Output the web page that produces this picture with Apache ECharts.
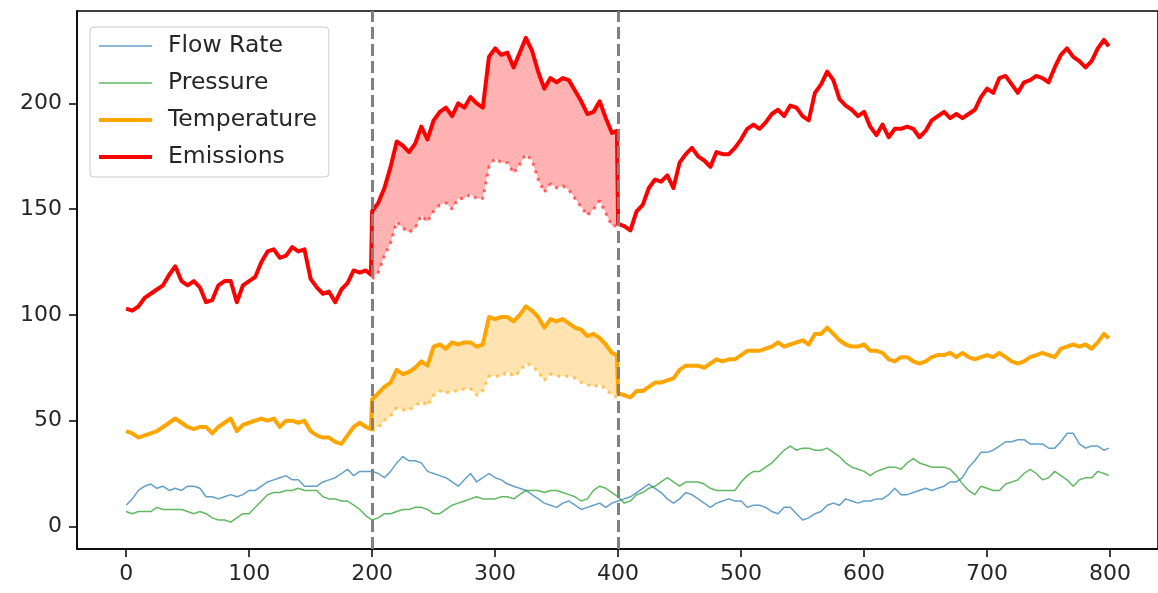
<!DOCTYPE html>
<html>
<head>
<meta charset="utf-8">
<script src="https://cdn.jsdelivr.net/npm/echarts@6/dist/echarts.min.js"></script>
<style>
html,body{margin:0;padding:0;background:#fff;}
#chart{width:1158px;height:593px;}
</style>
</head>
<body>
<div id="chart"></div>
<script>
// ---- data (sampled every 5 steps; last point of each segment is the segment's final sample) ----
const STEP = 5;
const xTicks = [0, 100, 200, 300, 400, 500, 600, 700, 800];
const yTicks = [0, 50, 100, 150, 200];
const seriesNames = ['Flow Rate', 'Pressure', 'Temperature', 'Emissions'];
const windowBounds = [200, 400];

// x = 0..795 step 5, then 799
const flowRate = [
 10,13,17,19,20,18,19,17,18,17,19,19,18,14,14,13,14,15,14,15,
 17,17,19,21,22,23,24,22,22,19,19,19,21,22,23,25,27,24,26,26,
 26,25,23,26,30,33,31,31,30,26,25,24,23,21,19,22,25,21,23,25,
 23,22,20,19,18,17,15,13,11,10,9,11,12,10,8,9,10,11,9,11,
 12,13,14,16,18,20,18,16,13,11,13,16,15,13,11,9,11,12,13,12,
 12,9,10,10,9,7,6,9,9,6,3,4,6,7,10,11,10,13,12,11,
 12,12,13,13,15,18,15,15,16,17,18,17,18,19,21,21,23,28,31,35,
 35,36,38,40,40,41,41,39,39,39,37,37,40,44,44,39,37,38,38,36,
 37];
const pressure = [
 7,6,7,7,7,9,8,8,8,8,7,6,7,6,4,3,3,2,4,6,
 6,9,12,15,16,16,17,17,18,17,17,17,14,13,13,12,12,10,8,5,
 3,4,6,6,7,8,8,9,9,8,6,6,8,10,11,12,13,14,13,13,
 13,14,14,13,15,17,17,17,16,17,17,16,15,14,12,13,17,19,18,16,
 14,11,12,15,16,18,19,21,23,21,19,21,21,21,20,18,17,17,17,17,
 21,24,26,26,28,30,33,36,38,36,37,37,36,36,37,35,33,30,28,27,
 26,24,26,27,28,28,27,30,32,30,29,28,28,28,27,24,20,17,15,19,
 18,17,17,20,21,22,25,27,25,22,23,26,24,22,19,22,23,23,26,25,
 24];

// Temperature: before window (0..195,199), window boosted (200..395,399), window baseline (dotted), after (400..795,799)
const tempBefore = [
 45,44,42,43,44,45,47,49,51,49,
 47,46,47,47,44,47,49,51,45,48,
 49,50,51,50,51,47,50,50,49,50,
 45,43,42,42,40,39,43,47,49,47,
 46];
const tempWindow = [
 60,63,66,68,74,72,73,75,78,76,
 85,86,84,87,86,87,87,85,86,99,
 98,99,99,97,100,104,102,99,94,98,
 97,98,96,94,93,90,91,89,86,82,
 81];
const tempBaseline = [
 45,47,50,52,56,55,55,57,59,57,
 62,64,63,64,64,65,65,62,64,71,
 71,71,73,71,73,77,76,73,69,72,
 71,71,71,70,68,67,66,67,65,62,
 61];
const tempAfter = [
 63,62,61,64,64,66,68,68,69,70,74,76,76,76,75,77,79,78,79,79,
 81,83,83,83,84,85,87,85,86,87,88,86,91,91,94,91,88,86,85,85,
 86,83,83,82,79,78,80,80,78,77,78,80,81,81,82,80,82,80,79,80,
 81,80,82,80,78,77,78,80,81,82,81,80,84,85,86,85,86,84,87,91,
 89];

// Emissions
const emisBefore = [
 103,102,104,108,110,112,114,119,123,116,
 114,116,113,106,107,114,116,116,106,114,
 116,118,125,130,131,127,128,132,130,131,
 117,113,110,111,106,112,115,121,120,121,
 119];
const emisWindow = [
 149,153,160,170,182,180,177,181,189,183,
 192,196,198,194,200,198,203,200,198,222,
 226,223,224,217,224,231,225,215,207,212,
 210,212,211,206,201,195,196,201,193,186,
 187];
const emisBaseline = [
 117,120,128,134,144,141,139,141,147,144,
 149,152,153,150,155,155,157,155,155,170,
 174,172,172,167,171,176,173,164,158,162,
 160,161,159,155,151,147,150,154,148,142,
 142];
const emisAfter = [
 143,142,140,149,152,160,164,163,166,160,172,176,179,175,173,170,177,176,176,179,
 183,188,190,188,191,195,197,194,199,198,194,192,205,209,215,211,202,199,197,194,
 196,189,185,190,184,188,188,189,188,184,187,192,194,196,193,195,193,195,197,203,
 207,205,212,213,209,205,210,211,213,212,210,217,223,226,222,220,217,220,226,230,
 227];

// ---- helpers ----
function seg(vals, start, end) {
  return vals.map((v, i) => [i === vals.length - 1 ? end - 1 : start + STEP * i, v]);
}
const FONT = 'DejaVu Sans';
const TEXT = '#262626';
const COLORS = { flow: '#1f77b4', pressure: '#2ca02c', temp: '#FFA500', emis: '#FF0000' };

function bandSeries(name, upperVals, lowerVals, color) {
  const up = seg(upperVals, windowBounds[0], windowBounds[1]);
  const lo = seg(lowerVals, windowBounds[0], windowBounds[1]);
  return {
    name: name, type: 'custom', silent: true, z: 1,
    data: [[windowBounds[0], lowerVals[0]]],
    renderItem: function (params, api) {
      if (params.dataIndex !== 0) return null;
      const pts = [];
      up.forEach(p => pts.push(api.coord(p)));
      for (let i = lo.length - 1; i >= 0; i--) pts.push(api.coord(lo[i]));
      return { type: 'polygon', shape: { points: pts }, style: { fill: color, stroke: null } };
    }
  };
}
function lineSeries(name, data, color, width, opacity, z, extra) {
  return Object.assign({
    name: name, type: 'line', data: data, symbol: 'none', showSymbol: false,
    z: z, animation: false,
    lineStyle: { color: color, width: width, opacity: opacity, join: 'round', cap: 'butt' },
    itemStyle: { color: color, opacity: opacity },
    emphasis: { disabled: true }
  }, extra || {});
}
function legendItem(name, color, width, opacity) {
  return { name: name, itemStyle: { opacity: 0 }, lineStyle: { color: color, width: width, opacity: opacity } };
}

const chart = echarts.init(document.getElementById('chart'), null, { renderer: 'canvas' });
chart.setOption({
  animation: false,
  backgroundColor: '#ffffff',
  grid: { left: 77, top: 11, width: 1086, height: 538, show: true, borderColor: '#000', borderWidth: 1.5, backgroundColor: 'transparent' },
  xAxis: {
    type: 'value', min: -39.95, max: 838.95,
    axisLine: { show: true, onZero: false, lineStyle: { color: '#000', width: 1.5 } },
    axisTick: { show: true, length: 8, lineStyle: { color: '#000', width: 1.5 }, customValues: xTicks },
    axisLabel: { customValues: xTicks, fontSize: 22, color: TEXT, fontFamily: FONT, margin: 14 },
    splitLine: { show: false }
  },
  yAxis: {
    type: 'value', min: -10.7, max: 243.7,
    axisLine: { show: true, onZero: false, lineStyle: { color: '#000', width: 1.5 } },
    axisTick: { show: true, length: 8, lineStyle: { color: '#000', width: 1.5 }, customValues: yTicks },
    axisLabel: { customValues: yTicks, fontSize: 22, color: TEXT, fontFamily: FONT, margin: 15 },
    splitLine: { show: false }
  },
  legend: {
    data: [
      legendItem(seriesNames[0], COLORS.flow, 1.5, 0.7),
      legendItem(seriesNames[1], COLORS.pressure, 1.5, 0.75),
      legendItem(seriesNames[2], COLORS.temp, 4, 1),
      legendItem(seriesNames[3], COLORS.emis, 4, 1)
    ],
    orient: 'vertical', left: 90, top: 27,
    itemWidth: 53, itemHeight: 14, itemGap: 13,
    padding: [7, 12, 8, 7],
    backgroundColor: 'rgba(255,255,255,0.85)', borderColor: '#cccccc', borderWidth: 1, borderRadius: 4,
    itemStyle: { opacity: 0 },
    textStyle: { fontSize: 23.5, lineHeight: 22, color: TEXT, fontFamily: FONT, padding: [0, 0, 0, 11] },
    selectedMode: false
  },
  series: [
    bandSeries('Emissions band', emisWindow, emisBaseline, 'rgba(255,0,0,0.3)'),
    bandSeries('Temperature band', tempWindow, tempBaseline, 'rgba(255,165,0,0.3)'),
    lineSeries('Flow Rate', seg(flowRate, 0, 800), COLORS.flow, 1.5, 0.7, 2),
    lineSeries('Pressure', seg(pressure, 0, 800), COLORS.pressure, 1.5, 0.75, 2),
    lineSeries('Temperature', seg(tempBefore, 0, 200).concat(seg(tempWindow, 200, 400), seg(tempAfter, 400, 800)), COLORS.temp, 4, 1, 3),
    lineSeries('Emissions', seg(emisBefore, 0, 200).concat(seg(emisWindow, 200, 400), seg(emisAfter, 400, 800)), COLORS.emis, 4, 1, 3, {
      markLine: {
        silent: true, symbol: ['none', 'none'], label: { show: false }, animation: false,
        lineStyle: { color: '#808080', width: 3, type: [12, 5] },
        data: windowBounds.map(b => ({ xAxis: b }))
      }
    }),
    lineSeries('Temperature baseline', seg(tempBaseline, 200, 400), COLORS.temp, 3, 0.6, 2, { lineStyle: { color: COLORS.temp, width: 3, opacity: 0.6, type: [3, 5] } }),
    lineSeries('Emissions baseline', seg(emisBaseline, 200, 400), COLORS.emis, 3, 0.55, 2, { lineStyle: { color: COLORS.emis, width: 3, opacity: 0.55, type: [3, 5] } })
  ]
});
</script>
</body>
</html>
